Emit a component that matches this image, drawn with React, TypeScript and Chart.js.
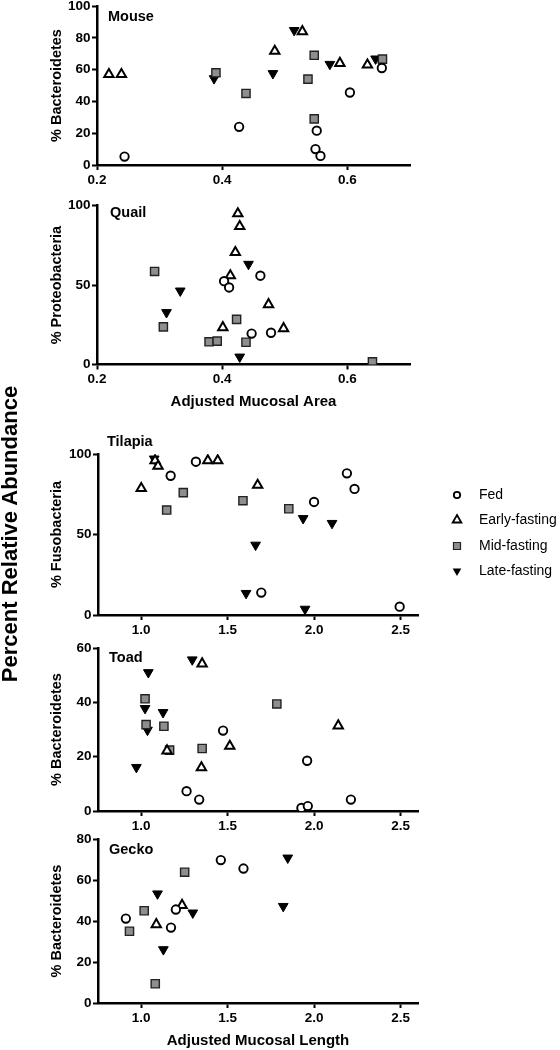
import React, { useEffect, useRef } from 'react';
import { Chart, registerables } from 'chart.js';

Chart.register(...registerables);

const FONT = "'Liberation Sans', Arial, Helvetica, sans-serif";

// Group names (legend)
const groups = ['Fed', 'Early-fasting', 'Mid-fasting', 'Late-fasting'];

// Mouse: [adjusted mucosal area, % Bacteroidetes]
const mouseFed = [[0.244, 5.3], [0.427, 24], [0.551, 21.6], [0.549, 10], [0.557, 5.7], [0.604, 45.6], [0.655, 61]];
const mouseEarly = [[0.219, 57], [0.239, 57], [0.484, 71.6], [0.528, 84], [0.588, 64], [0.632, 63]];
const mouseMid = [[0.39, 58], [0.438, 45], [0.547, 69], [0.537, 54], [0.547, 29], [0.656, 66.6]];
const mouseLate = [[0.387, 54.4], [0.481, 57.6], [0.515, 84.7], [0.572, 63.4], [0.645, 66.8]];

// Quail: [adjusted mucosal area, % Proteobacteria]
const quailFed = [[0.403, 52.5], [0.411, 48.5], [0.461, 55.9], [0.447, 19.5], [0.478, 20]];
const quailEarly = [[0.425, 95], [0.428, 87], [0.421, 70.6], [0.413, 56], [0.401, 23.3], [0.474, 37.8], [0.498, 22.7]];
const quailMid = [[0.292, 58.6], [0.306, 23.7], [0.379, 14.3], [0.392, 14.7], [0.423, 28.4], [0.438, 14], [0.64, 1.7]];
const quailLate = [[0.333, 46.4], [0.311, 32.8], [0.442, 63.2], [0.428, 4.8]];

// Tilapia: [adjusted mucosal length, % Fusobacteria]
const tilapiaFed = [[1.316, 95.2], [1.17, 86.5], [1.999, 70.2], [2.189, 88], [2.233, 78.3], [1.694, 13.9], [2.494, 5.2]];
const tilapiaEarly = [[1.0, 78.7], [1.08, 95.9], [1.097, 92.5], [1.385, 95.9], [1.442, 95.9], [1.673, 80.7]];
const tilapiaMid = [[1.147, 65.2], [1.243, 76], [1.588, 71], [1.853, 66]];
const tilapiaLate = [[1.075, 97], [1.661, 43.5], [1.606, 13.5], [1.936, 60], [2.103, 57], [1.947, 3.7]];

// Toad: [adjusted mucosal length, % Bacteroidetes]
const toadFed = [[1.473, 29.6], [1.262, 7.3], [1.335, 4.2], [1.959, 18.5], [1.926, 1.1], [1.963, 1.8], [2.212, 4.2]];
const toadEarly = [[1.352, 54.2], [1.149, 22.2], [1.512, 23.9], [1.348, 16], [2.139, 31.4]];
const toadMid = [[1.022, 41.3], [1.028, 31.8], [1.131, 31.2], [1.164, 22.4], [1.352, 23], [1.784, 39.4]];
const toadLate = [[1.041, 51], [1.022, 37.8], [1.036, 29.8], [1.126, 36.3], [0.972, 16.1], [1.295, 55.7]];

// Gecko: [adjusted mucosal length, % Bacteroidetes]
const geckoFed = [[0.911, 41.2], [1.172, 36.8], [1.2, 45.6], [1.46, 69.7], [1.591, 65.6]];
const geckoEarly = [[1.087, 38.3], [1.236, 47.7]];
const geckoMid = [[0.932, 35], [1.017, 45], [1.251, 63.8], [1.081, 9.4]];
const geckoLate = [[1.094, 53.3], [1.128, 26.1], [1.298, 44], [1.847, 70.8], [1.821, 47.2]];

// Tick labels
const areaTicks = [0.2, 0.4, 0.6];
const lengthTicks = [1.0, 1.5, 2.0, 2.5];
const ticks100by20 = [0, 20, 40, 60, 80, 100];
const ticks100by50 = [0, 50, 100];
const ticks60 = [0, 20, 40, 60];
const ticks80 = [0, 20, 40, 60, 80];

const groupStyle = [
  { pointStyle: 'circle', radius: 4.2, bg: '#ffffff', border: '#000000', bw: 1.9, rot: 0 },
  { pointStyle: 'triangle', radius: 5.4, bg: '#ffffff', border: '#000000', bw: 2, rot: 0 },
  { pointStyle: 'rect', radius: 5.8, bg: '#8e8e8e', border: '#222222', bw: 1.4, rot: 0 },
  { pointStyle: 'triangle', radius: 5.6, bg: '#000000', border: '#000000', bw: 1, rot: 180 },
];

type Panel = {
  name: string;
  yTitle: string;
  xTitle?: string;
  series: number[][][];
  xMin: number;
  xMax: number;
  xTicks: number[];
  yMax: number;
  yTicks: number[];
  top: number;
  height: number;
  padTop: number;
  xAxisH: number;
  left: number;
  right: number;
  nameDx: number;
  nameDy: number;
  legend?: boolean;
  xTitlePad?: number;
};

const panels: Panel[] = [
  {
    name: 'Mouse', yTitle: '% Bacteroidetes', series: [mouseFed, mouseEarly, mouseMid, mouseLate],
    xMin: 0.2, xMax: 0.7, xTicks: areaTicks, yMax: 100, yTicks: ticks100by20,
    top: -10, height: 210, padTop: 16, xAxisH: 35, left: 97, right: 410, nameDx: 11, nameDy: 11,
  },
  {
    name: 'Quail', yTitle: '% Proteobacteria', xTitle: 'Adjusted Mucosal Area', series: [quailFed, quailEarly, quailMid, quailLate],
    xMin: 0.2, xMax: 0.7, xTicks: areaTicks, yMax: 100, yTicks: ticks100by50,
    top: 190, height: 225, padTop: 15.7, xAxisH: 50.5, left: 97, right: 410, nameDx: 13, nameDy: 7.5, xTitlePad: 4,
  },
  {
    name: 'Tilapia', yTitle: '% Fusobacteria', series: [tilapiaFed, tilapiaEarly, tilapiaMid, tilapiaLate],
    xMin: 0.75, xMax: 2.6, xTicks: lengthTicks, yMax: 100, yTicks: ticks100by50,
    top: 430, height: 220, padTop: 24, xAxisH: 35, left: 98, right: 418, nameDx: 9, nameDy: -12, legend: true,
  },
  {
    name: 'Toad', yTitle: '% Bacteroidetes', series: [toadFed, toadEarly, toadMid, toadLate],
    xMin: 0.75, xMax: 2.6, xTicks: lengthTicks, yMax: 60, yTicks: ticks60,
    top: 620, height: 230, padTop: 28, xAxisH: 39, left: 98, right: 418, nameDx: 11, nameDy: 10,
  },
  {
    name: 'Gecko', yTitle: '% Bacteroidetes', xTitle: 'Adjusted Mucosal Length', series: [geckoFed, geckoEarly, geckoMid, geckoLate],
    xMin: 0.75, xMax: 2.6, xTicks: lengthTicks, yMax: 80, yTicks: ticks80,
    top: 820, height: 230, padTop: 19, xAxisH: 47, left: 98, right: 418, nameDx: 11, nameDy: 11, xTitlePad: 0,
  },
];

function drawLegend(ctx: CanvasRenderingContext2D, area: { top: number }) {
  const mx = 457;
  const tx = 479;
  const dys = [41, 66, 92, 117];
  ctx.save();
  ctx.font = `14px ${FONT}`;
  ctx.textBaseline = 'middle';
  ctx.textAlign = 'left';
  groups.forEach((g, i) => {
    const y = area.top + dys[i];
    ctx.beginPath();
    if (i === 0) {
      ctx.arc(mx, y, 3.2, 0, Math.PI * 2);
      ctx.fillStyle = '#fff';
      ctx.fill();
      ctx.lineWidth = 1.8;
      ctx.strokeStyle = '#000';
      ctx.stroke();
    } else if (i === 1) {
      const r = 5;
      ctx.moveTo(mx, y - r);
      ctx.lineTo(mx + r * 0.866, y + r * 0.5);
      ctx.lineTo(mx - r * 0.866, y + r * 0.5);
      ctx.closePath();
      ctx.fillStyle = '#fff';
      ctx.fill();
      ctx.lineWidth = 1.8;
      ctx.strokeStyle = '#000';
      ctx.stroke();
    } else if (i === 2) {
      ctx.rect(mx - 3.5, y - 3.5, 7, 7);
      ctx.fillStyle = '#8e8e8e';
      ctx.fill();
      ctx.lineWidth = 1.2;
      ctx.strokeStyle = '#222';
      ctx.stroke();
    } else {
      const r = 5;
      ctx.moveTo(mx, y + r);
      ctx.lineTo(mx + r * 0.866, y - r * 0.5);
      ctx.lineTo(mx - r * 0.866, y - r * 0.5);
      ctx.closePath();
      ctx.fillStyle = '#000';
      ctx.fill();
    }
    ctx.fillStyle = '#000';
    ctx.fillText(g, tx, y);
  });
  ctx.restore();
}

function PanelChart({ p }: { p: Panel }) {
  const ref = useRef<HTMLCanvasElement | null>(null);
  useEffect(() => {
    if (!ref.current) return;
    const tickFont = { family: FONT, size: 13.5, weight: 'bold' as const };
    const labelPlugin = {
      id: 'panelLabel',
      afterDraw(chart: any) {
        const ctx = chart.ctx as CanvasRenderingContext2D;
        const a = chart.chartArea;
        ctx.save();
        ctx.font = `bold 14.5px ${FONT}`;
        ctx.fillStyle = '#000';
        ctx.textBaseline = 'middle';
        ctx.textAlign = 'left';
        ctx.fillText(p.name, a.left + p.nameDx, a.top + p.nameDy);
        ctx.restore();
        if (p.legend) drawLegend(ctx, a);
      },
    };
    const chart = new Chart(ref.current, {
      type: 'scatter',
      data: {
        datasets: p.series.map((pts, i) => ({
          label: groups[i],
          data: pts.map(([x, y]) => ({ x, y })),
          pointStyle: groupStyle[i].pointStyle as any,
          pointRadius: groupStyle[i].radius,
          pointHoverRadius: groupStyle[i].radius,
          pointBackgroundColor: groupStyle[i].bg,
          pointBorderColor: groupStyle[i].border,
          pointBorderWidth: groupStyle[i].bw,
          pointRotation: groupStyle[i].rot,
          showLine: false,
        })),
      },
      options: {
        responsive: false,
        animation: false,
        devicePixelRatio: 1,
        events: [],
        layout: { padding: { left: 0, top: p.padTop, right: 560 - p.right, bottom: 0 } },
        plugins: {
          legend: { display: false },
          tooltip: { enabled: false },
          title: { display: false },
        },
        scales: {
          x: {
            type: 'linear',
            position: 'bottom',
            min: p.xMin,
            max: p.xMax,
            afterBuildTicks: (s: any) => {
              s.ticks = p.xTicks.map((v) => ({ value: v }));
            },
            afterFit: (s: any) => {
              s.height = p.xAxisH;
            },
            ticks: {
              font: tickFont,
              color: '#000',
              padding: 2,
              autoSkip: false,
              maxRotation: 0,
              callback: (v: any) => Number(v).toFixed(1),
            },
            grid: {
              display: true,
              drawOnChartArea: false,
              drawTicks: true,
              tickLength: 5,
              tickWidth: 2,
              tickColor: '#000',
            },
            border: { display: true, color: '#000', width: 2.5 },
            title: p.xTitle
              ? {
                  display: true,
                  text: p.xTitle,
                  color: '#000',
                  font: { family: FONT, size: 15, weight: 'bold' },
                  padding: { top: 0, bottom: p.xTitlePad ?? 0 },
                }
              : { display: false },
          },
          y: {
            type: 'linear',
            min: 0,
            max: p.yMax,
            afterBuildTicks: (s: any) => {
              s.ticks = p.yTicks.map((v) => ({ value: v }));
            },
            afterFit: (s: any) => {
              s.width = p.left;
            },
            ticks: {
              font: tickFont,
              color: '#000',
              padding: 1.5,
              autoSkip: false,
              callback: (v: any) => String(v),
            },
            grid: {
              display: true,
              drawOnChartArea: false,
              drawTicks: true,
              tickLength: 5,
              tickWidth: 2,
              tickColor: '#000',
            },
            border: { display: true, color: '#000', width: 2.5 },
            title: {
              display: true,
              text: p.yTitle,
              color: '#000',
              font: { family: FONT, size: 14.5, weight: 'bold' },
              padding: { top: 48.3, bottom: 0 },
            },
          },
        },
      } as any,
      plugins: [labelPlugin],
    });
    return () => chart.destroy();
  }, [p]);
  return (
    <canvas
      ref={ref}
      width={560}
      height={p.height}
      style={{ position: 'absolute', left: 0, top: p.top, width: 560, height: p.height }}
    />
  );
}

export default function App() {
  return (
    <div
      style={{
        position: 'absolute',
        left: 0,
        top: 0,
        width: 560,
        height: 1050,
        overflow: 'hidden',
        background: '#ffffff',
      }}
    >
      {panels.map((p) => (
        <PanelChart key={p.name} p={p} />
      ))}
      <div
        style={{
          position: 'absolute',
          left: 9.5 - 200,
          top: 534 - 11,
          width: 400,
          height: 22,
          lineHeight: '22px',
          textAlign: 'center',
          fontFamily: FONT,
          fontWeight: 'bold',
          fontSize: 22,
          color: '#000',
          transform: 'rotate(-90deg)',
          transformOrigin: '50% 50%',
          whiteSpace: 'nowrap',
        }}
      >
        Percent Relative Abundance
      </div>
    </div>
  );
}
